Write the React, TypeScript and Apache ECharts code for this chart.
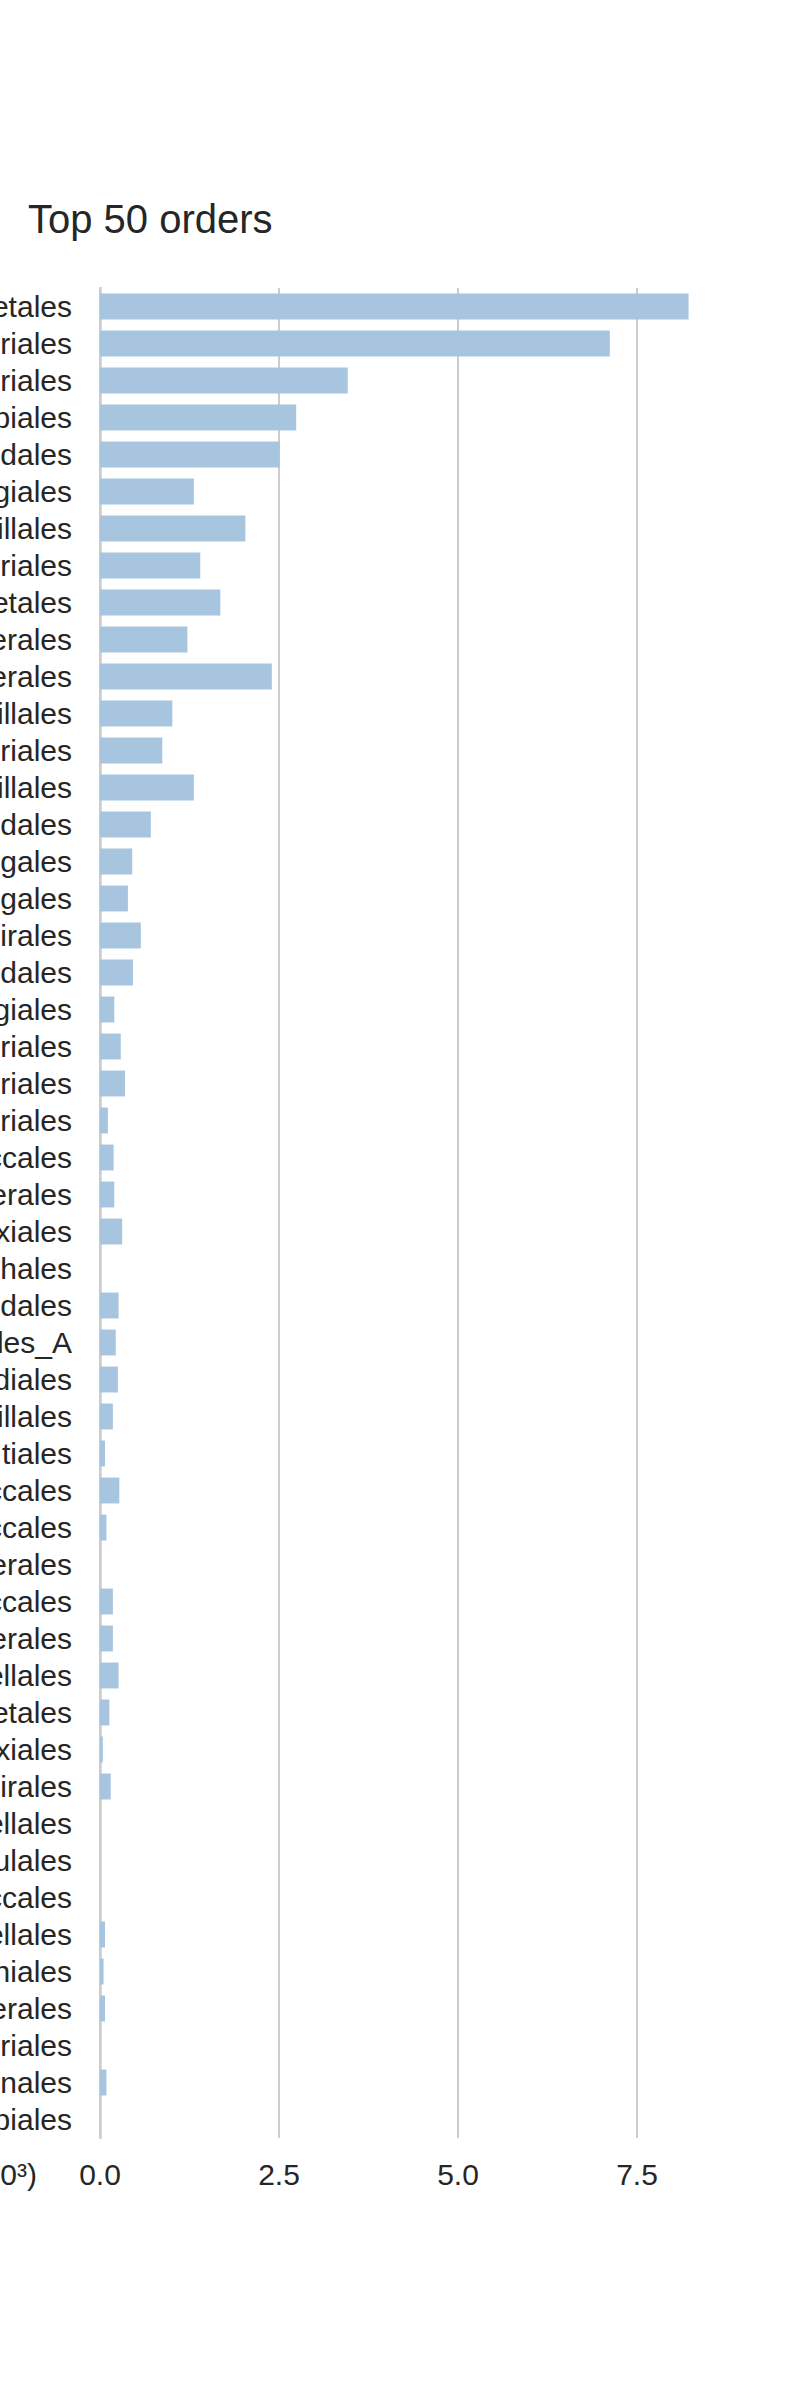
import React, { useEffect, useRef } from "react";
import * as echarts from "echarts";

const titleText = "Top 50 orders";
const axisUnitText = "(×10³)";

const orderLabels = [
  "etales", "riales", "riales", "biales", "dales",
  "giales", "illales", "riales", "etales", "erales",
  "erales", "illales", "riales", "illales", "dales",
  "gales", "gales", "irales", "dales", "giales",
  "riales", "riales", "riales", "ccales", "erales",
  "xiales", "hales", "dales", "les_A", "diales",
  "illales", "tiales", "ccales", "ccales", "erales",
  "ccales", "erales", "ellales", "etales", "xiales",
  "irales", "ellales", "ulales", "ccales", "ellales",
  "niales", "erales", "riales", "nales", "biales",
];

const orderValues = [
  8.22, 7.12, 3.46, 2.74, 2.51,
  1.31, 2.03, 1.40, 1.68, 1.22,
  2.40, 1.01, 0.87, 1.31, 0.71,
  0.45, 0.39, 0.57, 0.46, 0.20,
  0.29, 0.35, 0.11, 0.19, 0.20,
  0.31, 0.0, 0.26, 0.22, 0.25,
  0.18, 0.07, 0.27, 0.09, 0.0,
  0.18, 0.18, 0.26, 0.13, 0.04,
  0.15, 0.0, 0.0, 0.0, 0.07,
  0.05, 0.07, 0.0, 0.09, 0.0,
];

const tickInterval = 2.5;

export default function App() {
  const ref = useRef<HTMLDivElement>(null);

  useEffect(() => {
    if (!ref.current) return;
    const chart = echarts.init(ref.current, undefined, { renderer: "svg" });
    const textColor = "#262626";
    const font = "'Liberation Sans', Arial, sans-serif";
    chart.setOption({
      animation: false,
      backgroundColor: "#ffffff",
      title: {
        text: titleText,
        left: 23,
        top: 194,
        textStyle: {
          fontFamily: font,
          fontSize: 40,
          fontWeight: "normal",
          color: textColor,
        },
      },
      grid: {
        left: 100,
        top: 288,
        width: 716,
        height: 1850,
        containLabel: false,
        outerBoundsMode: "none",
      },
      xAxis: {
        type: "value",
        min: 0,
        max: 10,
        interval: tickInterval,
        axisLine: { show: false },
        axisTick: { show: false },
        axisLabel: {
          showMaxLabel: false,
          margin: 21,
          fontFamily: font,
          fontSize: 30,
          color: textColor,
          formatter: (v: number) => v.toFixed(1),
        },
        splitLine: {
          show: true,
          lineStyle: { color: "#cccccc", width: 2 },
        },
      },
      yAxis: {
        type: "category",
        inverse: true,
        data: orderLabels,
        axisLine: { show: true, lineStyle: { color: "#cccccc", width: 2.5 } },
        axisTick: { show: false },
        axisLabel: {
          interval: 0,
          margin: 28,
          fontFamily: font,
          fontSize: 30,
          color: textColor,
        },
        splitLine: { show: false },
      },
      series: [
        {
          type: "bar",
          data: orderValues,
          barCategoryGap: "30%",
          itemStyle: { color: "#a8c5df" },
          silent: true,
        },
      ],
      graphic: [
        {
          type: "text",
          x: 37,
          y: 2174,
          style: {
            text: axisUnitText,
            fontFamily: font,
            fontSize: 30,
            fill: textColor,
            align: "right",
            verticalAlign: "middle",
          },
        },
      ],
    });
    return () => chart.dispose();
  }, []);

  return (
    <div
      ref={ref}
      style={{ position: "absolute", left: 0, top: 0, width: 800, height: 2400 }}
    />
  );
}
